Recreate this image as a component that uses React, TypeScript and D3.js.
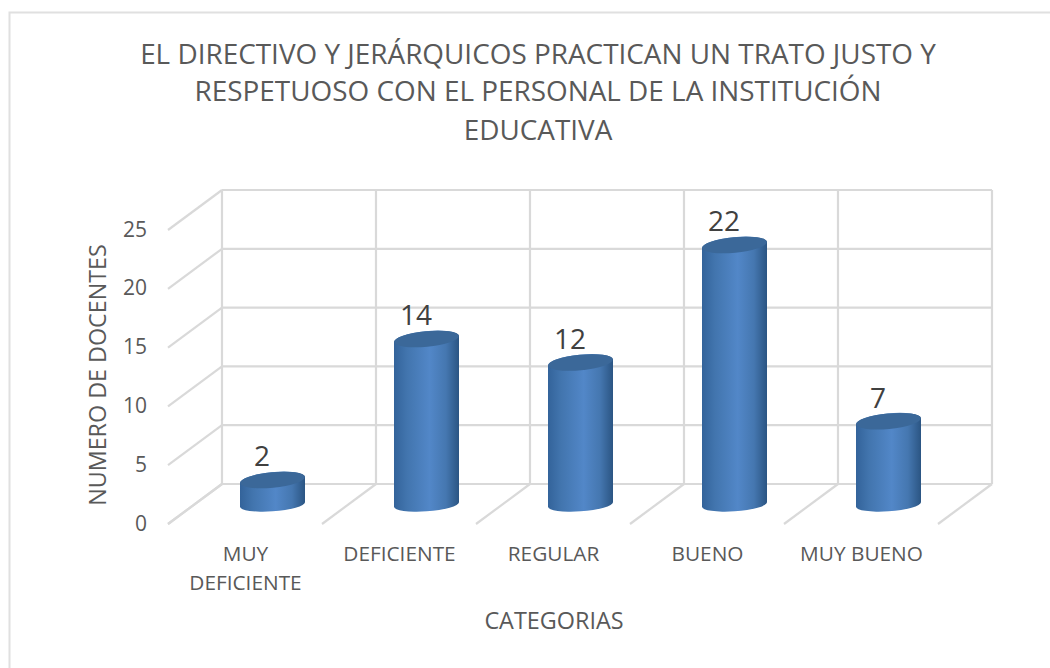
import React from "react";
import * as d3 from "d3";

const categories = ["MUY DEFICIENTE", "DEFICIENTE", "REGULAR", "BUENO", "MUY BUENO"];
const categoryLines = [["MUY", "DEFICIENTE"], ["DEFICIENTE"], ["REGULAR"], ["BUENO"], ["MUY BUENO"]];
const values = [2, 14, 12, 22, 7];
const ticks = [0, 5, 10, 15, 20, 25];
const titleLines = [
  "EL DIRECTIVO Y JERÁRQUICOS PRACTICAN UN TRATO JUSTO Y",
  "RESPETUOSO CON EL PERSONAL DE LA INSTITUCIÓN",
  "EDUCATIVA",
];
const titleY = [57, 94, 133];
const yTitle = "NUMERO DE DOCENTES";
const xTitle = "CATEGORIAS";

const FONT = "'Open Sans', sans-serif";
const GRID = "#d9d9d9";
const TEXT = "#595959";
const DX = -54;
const DY = 40;

const x = d3.scaleBand<string>().domain(categories).range([222, 992]);
const wallY = d3.scaleLinear().domain([0, 25]).range([484, 190]);
const barY = d3.scaleLinear().domain([0, 25]).range([503.5, 209.75]);

const RX = 32.5;
const RY = 7.8;
const ROT = -5.5;

function barCenter(c: string) {
  return (x(c) as number) + x.bandwidth() / 2 - 26.5;
}

function bodyPath(cx: number, top: number) {
  const base = 504.5;
  return `M${cx - RX},${top + 3.2}L${cx - RX},${base + 2.2}A${RX},6.8,-4,0,0,${cx + RX},${base - 2.2}L${cx + RX},${top - 3.2}A${RX},${RY},${ROT},0,0,${cx - RX},${top + 3.2}Z`;
}

export default function App() {
  const band = x.bandwidth();
  const walls = d3.range(categories.length + 1).map((i) => 222 + i * band);
  return (
    <svg
      width={1050}
      height={668}
      style={{ position: "absolute", left: 0, top: 0, background: "#fff" }}
      fontFamily={FONT}
    >
      <defs>
        <linearGradient id="cyl" x1="0" x2="1" y1="0" y2="0">
          <stop offset="0" stopColor="#33639a" />
          <stop offset="0.2" stopColor="#4275ae" />
          <stop offset="0.55" stopColor="#5287c8" />
          <stop offset="0.8" stopColor="#4577b0" />
          <stop offset="1" stopColor="#2b5583" />
        </linearGradient>
      </defs>
      <path d="M1050,12.5H9.5V668" fill="none" stroke="#e0e0e0" strokeWidth={2} />

      {titleLines.map((t, i) => (
        <text key={t} x={538} y={titleY[i]} textAnchor="middle" fontSize={27.9} fill={TEXT} dominantBaseline="middle">
          {t}
        </text>
      ))}

      <g stroke={GRID} strokeWidth={2.2} fill="none">
        {ticks.map((t) => (
          <g key={t}>
            <line x1={222} x2={992} y1={wallY(t)} y2={wallY(t)} />
            <line x1={222} x2={222 + DX} y1={wallY(t)} y2={wallY(t) + DY} />
          </g>
        ))}
        {walls.map((w, i) => (
          <g key={i}>
            <line x1={w} x2={w} y1={wallY(0)} y2={wallY(25)} />
            <line x1={w} x2={w + DX} y1={wallY(0)} y2={wallY(0) + DY} />
          </g>
        ))}
      </g>

      {ticks.map((t) => (
        <text key={t} x={147} y={wallY(t) + DY + 1} textAnchor="end" dominantBaseline="middle" fontSize={21} fill={TEXT}>
          {t}
        </text>
      ))}

      {categories.map((c, i) => {
        const cx = barCenter(c);
        const top = barY(values[i]);
        return (
          <g key={c}>
            <path d={bodyPath(cx, top)} fill="url(#cyl)" />
            <ellipse cx={cx} cy={top} rx={RX} ry={RY} transform={`rotate(${ROT} ${cx} ${top})`} fill="#3b6899" />
            <text x={cx - 10.5} y={top - 21} textAnchor="middle" dominantBaseline="middle" fontSize={28} fill="#404040">
              {values[i]}
            </text>
          </g>
        );
      })}

      {categories.map((c, i) => (
        <text key={c} textAnchor="middle" fontSize={20.8} fill={TEXT}>
          {categoryLines[i].map((l, j) => (
            <tspan key={l} x={(x(c) as number) + band / 2 + DX + 0.5} y={555 + j * 29} dominantBaseline="middle">
              {l}
            </tspan>
          ))}
        </text>
      ))}

      <text x={554} y={623} textAnchor="middle" dominantBaseline="middle" fontSize={23.4} fill={TEXT}>
        {xTitle}
      </text>
      <text
        transform="translate(100,375) rotate(-90)"
        textAnchor="middle"
        dominantBaseline="middle"
        fontSize={23.3}
        fill={TEXT}
      >
        {yTitle}
      </text>
    </svg>
  );
}
